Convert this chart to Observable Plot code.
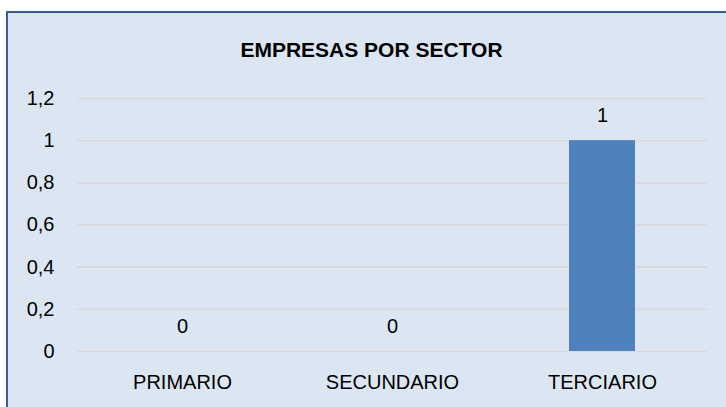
<!DOCTYPE html>
<html>
<head>
<meta charset="utf-8">
<script src="https://cdn.jsdelivr.net/npm/d3@7"></script>
<script src="https://cdn.jsdelivr.net/npm/@observablehq/plot@0.6"></script>
<style>
  html, body { margin: 0; padding: 0; background: #ffffff; width: 726px; height: 407px; overflow: hidden; }
  #frame { position: absolute; left: 6px; top: 11px; width: 800px; height: 500px; background: #DCE6F2; border: 2px solid #385D8A; }
  #chart { position: absolute; left: 0; top: 0; }
  #chart svg { background: transparent; }
</style>
</head>
<body>
<div id="frame"></div>
<div id="chart"></div>
<script>
const title = "EMPRESAS POR SECTOR";
const sectors = ["PRIMARIO", "SECUNDARIO", "TERCIARIO"];
const empresas = [0, 0, 1];
const yTicks = [0, 0.2, 0.4, 0.6, 0.8, 1, 1.2];

const data = sectors.map((s, i) => ({sector: s, value: empresas[i]}));
const fmt = v => String(+v.toFixed(1)).replace(".", ",");

const chart = Plot.plot({
  width: 726,
  height: 407,
  marginLeft: 77,
  marginRight: 19,
  marginTop: 98,
  marginBottom: 56,
  style: {fontFamily: "'Liberation Sans', Arial, sans-serif", fontSize: "20px", color: "#000", background: "transparent"},
  x: {domain: sectors, paddingInner: 0.686, paddingOuter: 0.343, label: null},
  y: {domain: [0, 1.2], label: null},
  marks: [
    Plot.gridY(yTicks, {stroke: "#D9D9D9", strokeOpacity: 1, strokeWidth: 1.6}),
    Plot.axisY(yTicks, {tickSize: 0, tickPadding: 23, tickFormat: fmt, label: null, fontSize: 20, fill: "#000"}),
    Plot.axisX({tickSize: 0, tickPadding: 23, label: null, fontSize: 20, fill: "#000"}),
    Plot.barY(data, {x: "sector", y: "value", fill: "#4F81BD"}),
    Plot.text(data, {x: "sector", y: "value", text: d => fmt(d.value), dy: -25, lineAnchor: "middle", fontSize: 20, fill: "#000"}),
    Plot.text([title], {frameAnchor: "top", dx: -21, dy: -48, lineAnchor: "middle", fontSize: 21, fontWeight: "bold", fill: "#000"})
  ]
});
document.getElementById("chart").appendChild(chart);
</script>
</body>
</html>
